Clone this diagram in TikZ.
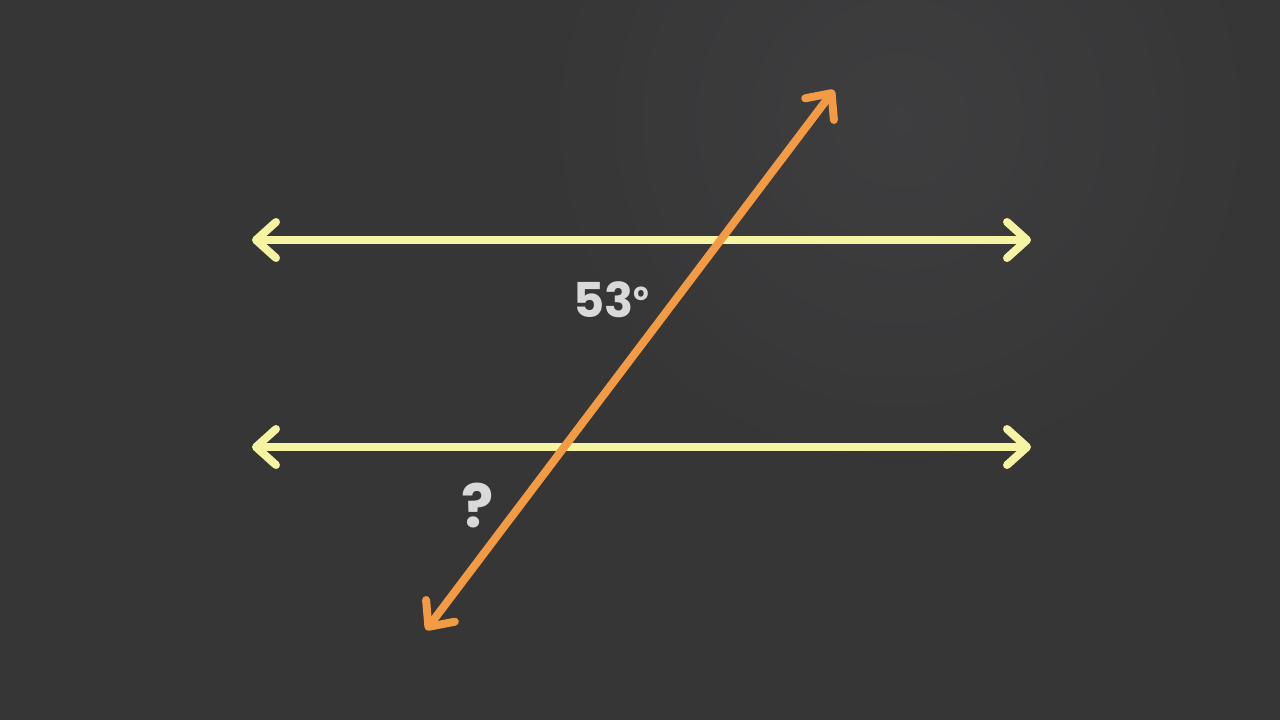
\documentclass[tikz,border=0pt]{standalone}
\usepackage{fontspec}
\usetikzlibrary{arrows.meta}
\definecolor{board}{HTML}{363637}
\definecolor{boardlight}{HTML}{444446}
\definecolor{chalkyellow}{HTML}{F6F3A2}
\definecolor{chalkorange}{HTML}{F39A45}
\definecolor{chalkwhite}{HTML}{D9D9D9}
\newfontfamily\labelfont{Poppins}[BoldFont={* Bold}]
\tikzset{
  barbtip/.tip={Straight Barb[length=20pt, width=36pt, line cap=round, line join=round]},
  parline/.style={draw=chalkyellow, line width=8pt, line cap=round, barbtip-barbtip},
  transline/.style={draw=chalkorange, line width=8pt, line cap=round, barbtip-barbtip},
  chalklabel/.style={text=chalkwhite, inner sep=0pt}
}
\begin{document}
\begin{tikzpicture}[x=1pt, y=-1pt]
  \useasboundingbox (0,0) rectangle (1280,720);
  \fill[board] (0,0) rectangle (1280,720);
  \shade[inner color=boardlight, outer color=board, opacity=0.6] (900,120) circle[radius=380];
  % endpoints
  \coordinate (L1) at (252,240);
  \coordinate (R1) at (1031,240);
  \coordinate (L2) at (252,447);
  \coordinate (R2) at (1031,447);
  \coordinate (T1) at (426,630);
  \coordinate (T2) at (834,90);
  \draw[parline] (L1) -- (R1);
  \draw[parline] (L2) -- (R2);
  \draw[transline] (T1) -- (T2);
  \node[chalklabel, font=\labelfont\bfseries\fontsize{48}{48}\selectfont] (ang) at (611,300) {53\raisebox{0.36em}{\fontsize{24}{24}\selectfont o}};
  \node[chalklabel, font=\labelfont\bfseries\fontsize{60}{60}\selectfont] (q) at (478,506) {?};
\end{tikzpicture}
\end{document}
